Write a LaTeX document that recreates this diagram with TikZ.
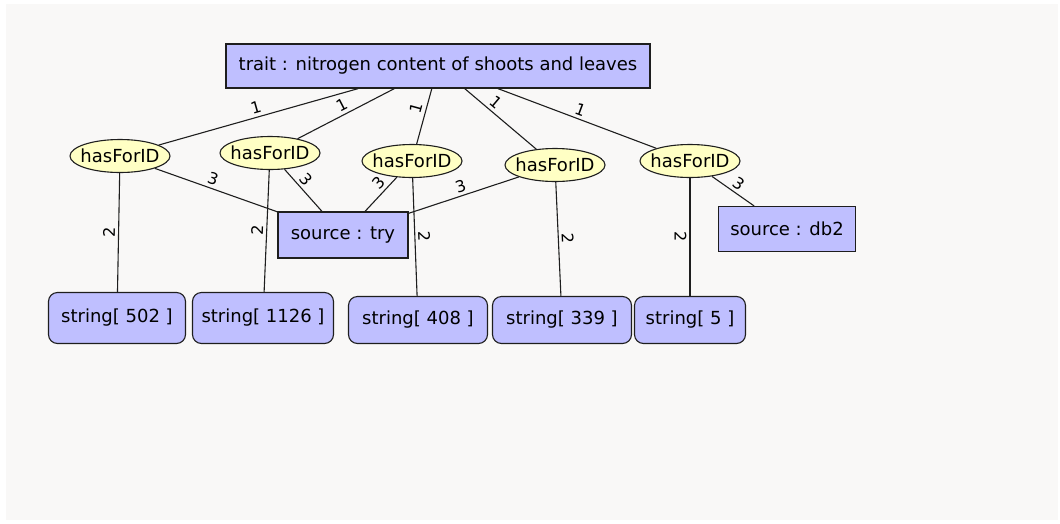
\documentclass[tikz,border=0pt]{standalone}
\usepackage{fontspec}
\setmainfont{DejaVu Sans}
\usetikzlibrary{shapes.geometric}

\definecolor{bggray}{RGB}{249,248,247}
\definecolor{boxblue}{RGB}{191,191,255}
\definecolor{idyellow}{RGB}{255,255,196}
\definecolor{edgegray}{RGB}{30,30,30}

\tikzset{
    concept/.style={rectangle, draw=edgegray, line width=1.1pt, fill=boxblue, inner sep=0pt,
        font=\fontsize{18}{21}\selectfont},
    literal/.style={concept, rounded corners=9pt},
    relation/.style={ellipse, draw=edgegray, line width=1.1pt, fill=idyellow,
        inner xsep=-8pt, inner ysep=0pt,
        minimum width=100pt, minimum height=33pt, font=\fontsize{18}{21}\selectfont},
    card/.style={sloped, inner sep=3pt, font=\fontsize{16}{18}\selectfont},
    link/.style={draw=edgegray, line width=1.1pt},
}

\begin{document}
\begin{tikzpicture}[x=1pt, y=-1pt]
    \useasboundingbox (0,0) rectangle (1060,523);
    \fill[bggray] (6,4) rectangle (1058,520);

    \node[concept, minimum width=424pt, minimum height=44pt](trait) at (438,66)
        {trait : nitrogen content of shoots and leaves};
    \node[relation](h1) at (120,156) {hasForID};
    \node[relation](h2) at (270,153) {hasForID};
    \node[relation](h3) at (412,161) {hasForID};
    \node[relation](h4) at (555,165) {hasForID};
    \node[relation](h5) at (690,161) {hasForID};
    \node[concept, minimum width=130pt, minimum height=46pt](try) at (343,235) {source : try};
    \node[concept, minimum width=137pt, minimum height=45pt](db2) at (787,229) {source : db2};
    \node[literal, minimum width=137pt, minimum height=51pt](s1) at (117,318) {string[ 502 ]};
    \node[literal, minimum width=141pt, minimum height=51pt](s2) at (263,318) {string[ 1126 ]};
    \node[literal, minimum width=139pt, minimum height=47pt](s3) at (418,320) {string[ 408 ]};
    \node[literal, minimum width=139pt, minimum height=47pt](s4) at (562,320) {string[ 339 ]};
    \node[literal, minimum width=111pt, minimum height=47pt](s5) at (690,320) {string[ 5 ]};

    \path[link]
        (trait)
            edge node[card, above] {1} (h1)
            edge node[card, above] {1} (h2)
            edge node[card, above, pos=0.4] {1} (h3)
            edge node[card, above, pos=0.35] {1} (h4)
            edge node[card, above] {1} (h5)
        (h1)
            edge node[card, above, pos=0.45] {3} (try)
            edge node[card, above] {2} (s1)
        (h2)
            edge node[card, above, pos=0.4] {3} (try)
            edge node[card, above] {2} (s2)
        (h3)
            edge node[card, above, pos=0.35] {3} (try)
            edge node[card, above] {2} (s3)
        (h4)
            edge node[card, above] {3} (try)
            edge node[card, above] {2} (s4)
        (h5)
            edge node[card, above] {3} (db2)
            edge node[card, below] {2} (s5)
        ;
\end{tikzpicture}
\end{document}
